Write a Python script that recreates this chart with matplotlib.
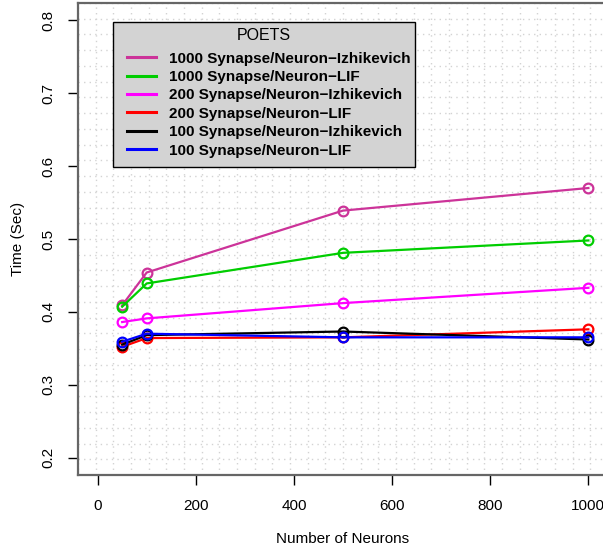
"""POETS run time versus network size, line chart in R base-graphics style."""

import matplotlib
matplotlib.use("Agg")
import matplotlib.pyplot as plt
from matplotlib.patches import Rectangle
import numpy as np

plt.rcParams["font.family"] = ["Liberation Sans", "DejaVu Sans"]

# Data
neurons = [50, 100, 500, 1000]
izh_1000 = [0.409, 0.454, 0.539, 0.570]
lif_1000 = [0.407, 0.439, 0.481, 0.498]
izh_200 = [0.386, 0.391, 0.412, 0.433]
lif_200 = [0.352, 0.364, 0.365, 0.376]
izh_100 = [0.355, 0.368, 0.373, 0.362]
lif_100 = [0.359, 0.370, 0.365, 0.365]

labels = [
    "1000 Synapse/Neuron\u2212Izhikevich",
    "1000 Synapse/Neuron\u2212LIF",
    "200 Synapse/Neuron\u2212Izhikevich",
    "200 Synapse/Neuron\u2212LIF",
    "100 Synapse/Neuron\u2212Izhikevich",
    "100 Synapse/Neuron\u2212LIF",
]
series = [izh_1000, lif_1000, izh_200, lif_200, izh_100, lif_100]
colors = ["#CC3399", "#00CD00", "#FF00FF", "#FF0000", "#000000", "#0000FF"]

x_ticks = [0, 200, 400, 600, 800, 1000]
y_ticks = [0.2, 0.3, 0.4, 0.5, 0.6, 0.7, 0.8]

W, H = 603, 550
fig = plt.figure(figsize=(W / 100, H / 100), dpi=100)
# Right edge of the plot box falls just outside the image, as in the reference
ax = fig.add_axes([78 / W, 75 / H, 530 / W, 472 / H])

xlim = (-40, 1040)
ylim = (0.176, 0.824)
ax.set_xlim(*xlim)
ax.set_ylim(*ylim)

# R-style grid(nx=30, ny=30): dotted light gray
for gx in np.linspace(xlim[0], xlim[1], 31):
    ax.axvline(gx, color="#D3D3D3", linestyle=(0, (1, 3)), linewidth=1.0, zorder=0)
for gy in np.linspace(ylim[0], ylim[1], 31):
    ax.axhline(gy, color="#D3D3D3", linestyle=(0, (1, 3)), linewidth=1.0, zorder=0)

for vals, col, lab in zip(series, colors, labels):
    ax.plot(
        neurons, vals, color=col, linewidth=1.6, marker="o", markersize=7,
        markerfacecolor="none", markeredgecolor=col, markeredgewidth=1.6,
        label=lab,
    )

for side in ("left", "bottom", "top", "right"):
    ax.spines[side].set_color("#666666")
    ax.spines[side].set_linewidth(1.6)

ax.set_xticks(x_ticks)
ax.set_yticks(y_ticks)
ax.set_xticklabels([str(v) for v in x_ticks])
ax.set_yticklabels([f"{v:.1f}" for v in y_ticks], rotation=90, va="center")
ax.tick_params(axis="x", direction="out", length=7, width=1.0,
               color="black", labelsize=11, pad=10)
ax.tick_params(axis="y", direction="out", length=7, width=1.0,
               color="black", labelsize=11, pad=9)

ax.set_xlabel("Number of Neurons", fontsize=11, labelpad=14)
ax.set_ylabel("Time (Sec)", fontsize=11, labelpad=12)

# Legend box drawn by hand (R legend with gray background)
box_l, box_t, box_r, box_b = 113, 22, 415, 167
fig.patches.append(Rectangle(
    (box_l / W, 1 - box_b / H), (box_r - box_l) / W, (box_b - box_t) / H,
    transform=fig.transFigure, facecolor="#D3D3D3", edgecolor="black",
    linewidth=1.0, zorder=5,
))
fig.text((box_l + box_r) / 2 / W, 1 - 35 / H, "POETS", fontsize=11.5,
         ha="center", va="center", zorder=6)

leg = fig.legend(
    [plt.Line2D([], [], color=c, linewidth=2.2) for c in colors],
    labels,
    loc="upper left",
    bbox_to_anchor=(127 / W, 1 - 51.5 / H),
    prop={"weight": "bold", "size": 11},
    frameon=False,
    handlelength=1.9,
    handletextpad=0.85,
    labelspacing=0.29,
    borderpad=0,
    borderaxespad=0,
)
leg.set_zorder(7)

fig.savefig("out.png", dpi=100)
plt.close(fig)
